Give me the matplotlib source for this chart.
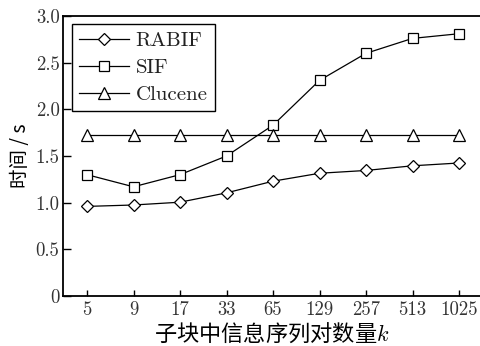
import matplotlib
matplotlib.use("Agg")
import matplotlib.pyplot as plt

categories = ["5", "9", "17", "33", "65", "129", "257", "513", "1025"]
rabif = [0.96, 0.975, 1.005, 1.105, 1.23, 1.315, 1.345, 1.395, 1.425]
sif = [1.30, 1.17, 1.30, 1.50, 1.83, 2.31, 2.60, 2.76, 2.81]
clucene = [1.73, 1.73, 1.73, 1.73, 1.73, 1.73, 1.73, 1.73, 1.73]
yticks = [0, 0.5, 1.0, 1.5, 2.0, 2.5, 3.0]
yticklabels = ["0", "0.5", "1.0", "1.5", "2.0", "2.5", "3.0"]

plt.rcParams['font.family'] = ['cmr10', 'Noto Sans CJK SC', 'DejaVu Sans']
plt.rcParams['mathtext.fontset'] = 'cm'
plt.rcParams['axes.unicode_minus'] = False
plt.rcParams['text.color'] = '#222222'
plt.rcParams['xtick.labelcolor'] = '#333333'
plt.rcParams['ytick.labelcolor'] = '#333333'

fig = plt.figure(figsize=(4.81, 3.46), dpi=100)
ax = fig.add_axes([0.131, 0.1445, 0.869, 0.8093])

x = list(range(len(categories)))
common = dict(color='black', lw=0.9, markerfacecolor='white', markeredgecolor='black',
              markeredgewidth=0.9, clip_on=False)
ax.plot(x, rabif, marker='D', markersize=6.5, label='RABIF', **common)
ax.plot(x, sif, marker='s', markersize=7.5, label='SIF', **common)
ax.plot(x, clucene, marker='^', markersize=8, label='Clucene', **common)

ax.set_xlim(-0.516, 8.473)
ax.set_ylim(0, 3.0)
ax.set_xticks(x)
ax.set_xticklabels(categories, fontsize=13.5)
ax.set_yticks(yticks)
ax.set_yticklabels(yticklabels, fontsize=13.5)
ax.tick_params(axis='x', direction='in', length=4.5, width=1, pad=4)
ax.tick_params(axis='y', direction='in', length=5.5, width=1, pad=2.5)

for s in ['left', 'bottom', 'top']:
    ax.spines[s].set_linewidth(1.3)
ax.spines['right'].set_visible(False)

ax.set_xlabel('子块中信息序列对数量$k$', fontsize=16, labelpad=1,
              family=['Noto Sans CJK SC', 'DejaVu Sans'])
ax.set_ylabel('时间 / s', fontsize=14, labelpad=3,
              family=['Noto Sans CJK SC', 'DejaVu Sans'])

leg = ax.legend(loc='upper left', bbox_to_anchor=(0.0215, 0.971), borderaxespad=0,
                fancybox=False, edgecolor='black', framealpha=1, fontsize=15,
                handlelength=2.4, handletextpad=0.3, labelspacing=0.4,
                borderpad=0.35)
leg.get_frame().set_linewidth(1.0)

fig.savefig('out.png', dpi=100)
